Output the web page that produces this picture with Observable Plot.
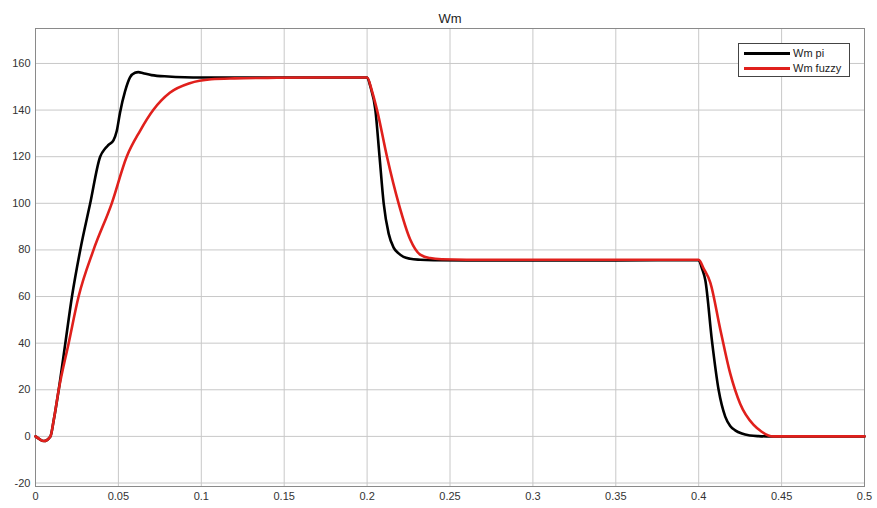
<!DOCTYPE html>
<html>
<head>
<meta charset="utf-8">
<script src="https://cdn.jsdelivr.net/npm/d3@7"></script>
<script src="https://cdn.jsdelivr.net/npm/@observablehq/plot@0.6"></script>
<style>
  body { margin: 0; background: #fff; }
  #wrap { position: relative; width: 877px; height: 508px; font-family: "Liberation Sans", Arial, sans-serif; }
  #legend { position: absolute; left: 738px; top: 43px; width: 112px; height: 34px; border: 1px solid #444; background: #fff; box-sizing: border-box; font-size: 11px; color: #222; }
  .row { position: absolute; left: 5px; height: 14px; display: flex; align-items: center; }
  .sw { width: 46px; height: 3px; margin-right: 3px; }
</style>
</head>
<body>
<div id="wrap"></div>
<script>
const title = "Wm";
const seriesNames = ["Wm pi", "Wm fuzzy"];
const seriesColors = ["#000000", "#e0201c"];

const tPi = [0, 0.002, 0.005, 0.009, 0.011, 0.014, 0.018, 0.022, 0.027, 0.033, 0.039, 0.042, 0.044, 0.047, 0.049, 0.051, 0.054, 0.057, 0.060, 0.062, 0.065, 0.070, 0.080, 0.090, 0.100, 0.150, 0.200, 0.202, 0.205, 0.2075, 0.210, 0.213, 0.216, 0.219, 0.222, 0.226, 0.232, 0.240, 0.260, 0.300, 0.350, 0.400, 0.402, 0.404, 0.408, 0.412, 0.416, 0.419, 0.422, 0.426, 0.431, 0.436, 0.441, 0.450, 0.500];
const vPi = [0, -1, -2, 0, 7, 20, 40, 60, 80, 100, 120, 123.5, 125, 127, 131, 139, 148, 154, 156, 156.3, 155.8, 155, 154.4, 154.1, 154, 154, 154, 150, 140, 120, 100, 87, 81, 78.5, 77, 76.2, 75.8, 75.6, 75.5, 75.5, 75.5, 75.6, 72, 67, 41, 20, 8.5, 4.5, 2.6, 1.2, 0.4, 0.1, 0, 0, 0];

const tFz = [0, 0.002, 0.005, 0.009, 0.011, 0.014, 0.020, 0.026, 0.035, 0.046, 0.055, 0.063, 0.071, 0.081, 0.093, 0.106, 0.120, 0.140, 0.170, 0.200, 0.203, 0.206, 0.212, 0.219, 0.226, 0.232, 0.238, 0.245, 0.260, 0.300, 0.350, 0.400, 0.403, 0.407, 0.413, 0.419, 0.425, 0.433, 0.438, 0.442, 0.445, 0.500];
const vFz = [0, -1, -2, 0, 7, 20, 40, 60, 80, 100, 120, 131, 140, 147.4, 151.5, 153.2, 153.6, 153.8, 154, 154, 148, 140, 120, 100, 84.5, 78, 76.5, 76, 75.8, 75.8, 75.8, 75.8, 72, 66, 46, 27, 14, 5, 2, 0.4, 0, 0];

const xTicks = [0, 0.05, 0.1, 0.15, 0.2, 0.25, 0.3, 0.35, 0.4, 0.45, 0.5];
const yTicks = [-20, 0, 20, 40, 60, 80, 100, 120, 140, 160];

const piData = tPi.map((t, i) => ({t, v: vPi[i], s: seriesNames[0]}));
const fzData = tFz.map((t, i) => ({t, v: vFz[i], s: seriesNames[1]}));

const chart = Plot.plot({
  width: 877,
  height: 508,
  marginLeft: 35,
  marginRight: 13,
  marginTop: 28,
  marginBottom: 22,
  style: { fontFamily: "Liberation Sans, Arial, sans-serif", fontSize: "11px", color: "#333", background: "#fff" },
  x: { domain: [0, 0.5], ticks: xTicks, tickFormat: d3.format("~g"), tickSize: 0, tickPadding: 6, label: null },
  y: { domain: [-21.5, 175], ticks: yTicks, tickFormat: d => String(d), tickSize: 0, tickPadding: 5, label: null },
  marks: [
    Plot.gridX(xTicks, { stroke: "#c8c8c8", strokeOpacity: 1 }),
    Plot.gridY(yTicks, { stroke: "#c8c8c8", strokeOpacity: 1 }),
    Plot.frame({ stroke: "#8a8a8a" }),
    Plot.axisX({ ticks: xTicks, tickFormat: d3.format("~g"), tickSize: 0, tickPadding: 6, label: null }),
    Plot.axisY({ ticks: yTicks, tickFormat: d => String(d), tickSize: 0, tickPadding: 5, label: null }),
    Plot.line(piData, { x: "t", y: "v", stroke: seriesColors[0], strokeWidth: 2.6, curve: "monotone-x" }),
    Plot.line(fzData, { x: "t", y: "v", stroke: seriesColors[1], strokeWidth: 2.6, curve: "monotone-x" }),
    Plot.text([title], { frameAnchor: "top", dy: -15, fontSize: 13, fill: "#222" })
  ]
});

const wrap = document.getElementById("wrap");
wrap.appendChild(chart);
const leg = document.createElement("div");
leg.id = "legend";
seriesNames.forEach((n, i) => {
  const r = document.createElement("div");
  r.className = "row";
  r.style.top = (2 + i * 15) + "px";
  r.innerHTML = `<div class="sw" style="background:${seriesColors[i]}"></div><span>${n}</span>`;
  leg.appendChild(r);
});
wrap.appendChild(leg);
</script>
</body>
</html>
